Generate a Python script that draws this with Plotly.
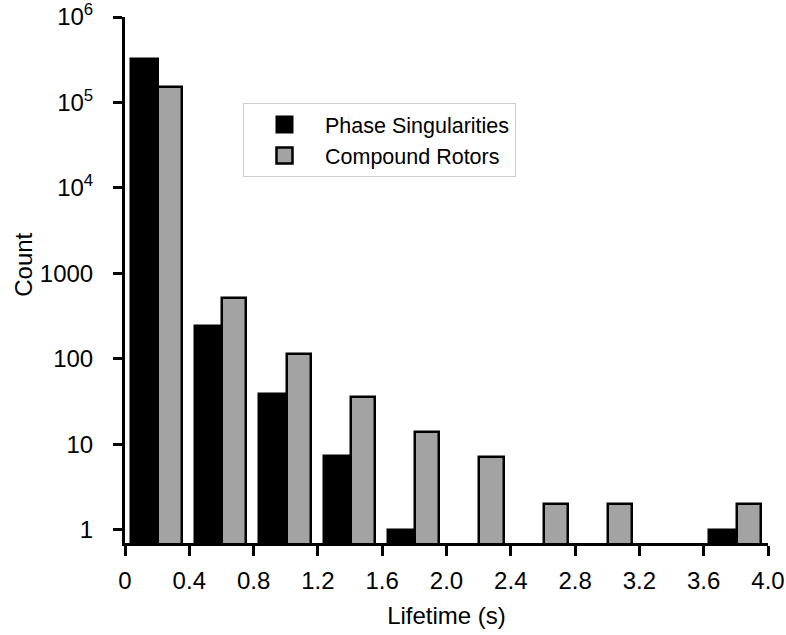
import plotly.graph_objects as go

bin_starts = [0.0, 0.4, 0.8, 1.2, 1.6, 2.0, 2.4, 2.8, 3.2, 3.6]
phase_singularities = [3.2e5, 243, 38.5, 7.3, 1, None, None, None, None, 1]
compound_rotors = [1.5e5, 520, 113, 36, 14, 7.1, 2, 2, None, 2]

x_tickvals = [0, 0.4, 0.8, 1.2, 1.6, 2.0, 2.4, 2.8, 3.2, 3.6, 4.0]
x_ticktext = ["0", "0.4", "0.8", "1.2", "1.6", "2.0", "2.4", "2.8", "3.2", "3.6", "4.0"]
y_tickvals = [1, 10, 100, 1000, 1e4, 1e5, 1e6]
y_ticktext = ["1", "10", "100", "1000", "10<sup>4</sup>", "10<sup>5</sup>", "10<sup>6</sup>"]

FONT = "Liberation Sans, Arial, Helvetica, sans-serif"
GRAY = "#a3a3a3"

fig = go.Figure()
fig.add_trace(go.Bar(
    x=bin_starts, y=phase_singularities, offset=0.035, width=0.17,
    marker=dict(color="black", line=dict(color="black", width=2.5)),
    name="Phase Singularities", showlegend=False))
fig.add_trace(go.Bar(
    x=bin_starts, y=compound_rotors, offset=0.205, width=0.15,
    marker=dict(color=GRAY, line=dict(color="black", width=2.5)),
    name="Compound Rotors", showlegend=False))
# legend entries
fig.add_trace(go.Scatter(
    x=[None], y=[None], mode="markers", name="Phase Singularities",
    marker=dict(symbol="square", size=16, color="black", line=dict(color="black", width=2))))
fig.add_trace(go.Scatter(
    x=[None], y=[None], mode="markers", name="Compound Rotors",
    marker=dict(symbol="square", size=16, color=GRAY, line=dict(color="black", width=2.5))))

fig.update_layout(
    width=786, height=635,
    margin=dict(l=125, r=18, t=17, b=92),
    plot_bgcolor="white", paper_bgcolor="white",
    font=dict(family=FONT, size=24, color="black"),
    bargap=0,
    showlegend=True,
    legend=dict(
        x=0.1835, y=0.8365, xanchor="left", yanchor="top",
        bordercolor="#cccccc", borderwidth=1, bgcolor="white",
        font=dict(family=FONT, size=21.5, color="black"),
        itemwidth=71, tracegroupgap=0,
    ),
    annotations=[dict(
        text="Count", textangle=-90, showarrow=False,
        xref="paper", yref="paper", x=-0.159, y=0.5285,
        xanchor="center", yanchor="middle",
        font=dict(family=FONT, size=24, color="black"),
    )],
)
fig.update_xaxes(
    range=[0, 4.0], tickvals=x_tickvals, ticktext=x_ticktext,
    showline=True, linecolor="black", linewidth=3,
    ticks="outside", ticklen=10, tickwidth=2.5, tickcolor="black",
    showgrid=False, zeroline=False, automargin=False,
    ticklabelstandoff=4, ticklabeloverflow="allow",
    title=dict(text="Lifetime (s)", font=dict(size=24)),
    tickfont=dict(size=24),
)
fig.update_yaxes(
    type="log", range=[-0.157, 6.001], tickvals=y_tickvals, ticktext=y_ticktext,
    showline=True, linecolor="black", linewidth=3,
    ticks="outside", ticklen=9, tickwidth=2.5, tickcolor="black",
    showgrid=False, zeroline=False, automargin=False,
    ticklabelstandoff=15, ticklabeloverflow="allow",
    tickfont=dict(size=24),
)

fig.write_html("out.html", config={"displayModeBar": False},
               post_script="document.body.style.margin='0';")
